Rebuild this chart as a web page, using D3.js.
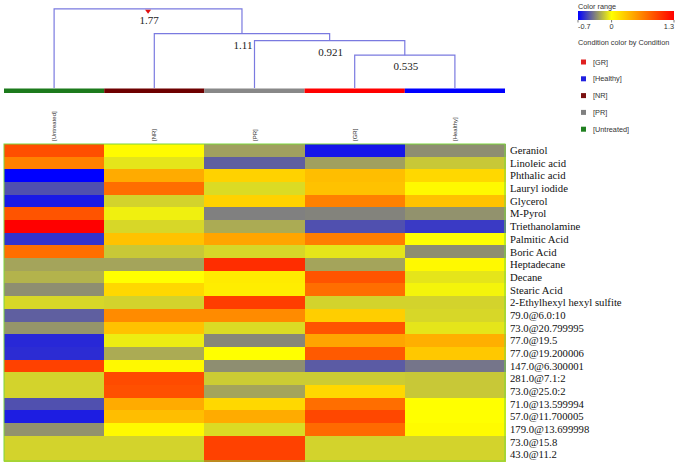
<!DOCTYPE html>
<html>
<head>
<meta charset="utf-8">
<style>
  body { margin: 0; background: #fff; }
  svg { display: block; }
  .row-label { font-family: "Liberation Serif", "DejaVu Serif", serif; font-size: 10.7px; fill: #111; }
  .col-label { font-family: "Liberation Sans", Arial, sans-serif; font-size: 6px; fill: #333; }
  .node-label { font-family: "Liberation Serif", serif; font-size: 11px; fill: #222; }
  .legend { font-family: "Liberation Sans", Arial, sans-serif; font-size: 7.3px; fill: #333; }
</style>
<script src="https://cdnjs.cloudflare.com/ajax/libs/d3/7.8.5/d3.min.js"></script>
</head>
<body>
<svg id="chart" width="675" height="465"></svg>
<script>
// columns (conditions) in dendrogram order
const conditions = ['[Untreated]', '[NR]', '[PR]', '[GR]', '[Healthy]'];
const conditionColors = ['#1c7a1c', '#6e0000', '#888888', '#ff0000', '#0000ff'];

// legend order
const legendConditions = ['[GR]', '[Healthy]', '[NR]', '[PR]', '[Untreated]'];
const legendColors = ['#e02020', '#2020e0', '#7a1010', '#808080', '#208020'];

// compounds (rows)
const compounds = [
  'Geraniol', 'Linoleic acid', 'Phthalic acid', 'Lauryl iodide', 'Glycerol',
  'M-Pyrol', 'Triethanolamine', 'Palmitic Acid', 'Boric Acid', 'Heptadecane',
  'Decane', 'Stearic Acid', '2-Ethylhexyl hexyl sulfite', '79.0@6.0:10',
  '73.0@20.799995', '77.0@19.5', '77.0@19.200006', '147.0@6.300001',
  '281.0@7.1:2', '73.0@25.0:2', '71.0@13.599994', '57.0@11.700005',
  '179.0@13.699998', '73.0@15.8', '43.0@11.2'
];

// values per condition, one entry per compound
const untreated = [0.90, 0.64, -0.70, -0.48, -0.63, 0.87, 1.30, -0.56, 0.74, -0.25,
  -0.21, -0.31, -0.11, -0.44, -0.29, -0.59, -0.58, 0.97, -0.12, -0.12, -0.48, -0.62, -0.30, -0.12, -0.12];
const nr = [0.02, -0.07, 0.43, 0.74, -0.12, -0.04, -0.11, 0.31, -0.15, -0.25,
  0.00, 0.20, -0.12, 0.59, 0.31, -0.05, -0.23, 0.03, 0.92, 0.89, 0.43, 0.33, 0.03, -0.12, -0.12];
const pr = [-0.26, -0.44, 0.23, -0.10, 0.23, -0.35, -0.23, 0.46, -0.11, 1.07,
  0.10, 0.09, 0.99, 0.59, -0.10, -0.33, 0.00, -0.31, -0.14, -0.25, 0.20, 0.43, -0.10, 0.97, 0.97];
const gr = [-0.64, -0.26, 0.33, 0.31, 0.64, -0.34, -0.48, 0.66, -0.07, -0.25,
  0.87, 0.74, -0.12, 0.25, 0.87, 0.46, 0.84, -0.45, -0.14, 0.20, 0.74, 0.94, 0.76, -0.12, -0.12];
const healthy = [-0.31, -0.15, 0.20, 0.03, 0.31, -0.30, -0.54, 0.00, -0.31, 0.03,
  -0.07, -0.03, -0.12, -0.11, -0.07, 0.41, 0.28, -0.38, -0.15, -0.15, 0.00, 0.00, 0.02, -0.12, -0.12];
const seriesByCondition = [untreated, nr, pr, gr, healthy];

// dendrogram merges: [left member, right member, height]
const merges = [
  ['[GR]', '[Healthy]', 0.535],
  ['[PR]', 'm0', 0.921],
  ['[NR]', 'm1', 1.11],
  ['[Untreated]', 'm2', 1.77]
];

// colour range
const colorDomain = [-0.7, 0, 1.3];
const colorRange = ['#0000ff', '#ffff00', '#ff0000'];
const colorTicks = ['-0.7', '0', '1.3'];

const svg = d3.select('#chart');

const x = d3.scaleBand().domain(conditions).range([4, 505]).padding(0);
const y = d3.scaleBand().domain(compounds).range([144, 461]).padding(0);
const color = d3.scaleLinear().domain(colorDomain).range(colorRange).interpolate(d3.interpolateRgb);
const hY = d3.scaleLinear().domain([0, 1.77]).range([75.3, 8.8]);

// heatmap cells
const cells = [];
conditions.forEach((c, ci) => {
  compounds.forEach((r, ri) => cells.push({ c, r, v: seriesByCondition[ci][ri] }));
});
svg.append('g').selectAll('rect').data(cells).join('rect')
  .attr('x', d => x(d.c))
  .attr('y', d => y(d.r))
  .attr('width', x.bandwidth() + 0.5)
  .attr('height', y.bandwidth() + 0.5)
  .attr('fill', d => color(d.v))
  .attr('shape-rendering', 'crispEdges');

svg.append('rect')
  .attr('x', x.range()[0]).attr('y', y.range()[0])
  .attr('width', x.range()[1] - x.range()[0])
  .attr('height', y.range()[1] - y.range()[0])
  .attr('fill', 'none').attr('stroke', '#7cd63c').attr('stroke-width', 1);

// row labels
svg.append('g').selectAll('text').data(compounds).join('text')
  .attr('class', 'row-label')
  .attr('x', 510)
  .attr('y', d => y(d) + y.bandwidth() / 2)
  .attr('dy', '0.35em')
  .text(d => d);

// column labels (rotated)
svg.append('g').selectAll('text').data(conditions).join('text')
  .attr('class', 'col-label')
  .attr('transform', d => `translate(${x(d) + x.bandwidth() / 2},141) rotate(-90)`)
  .attr('dy', '0.35em')
  .text(d => d);

// condition colour bar
svg.append('g').selectAll('rect').data(conditions).join('rect')
  .attr('x', d => x(d))
  .attr('y', 88.5)
  .attr('width', x.bandwidth())
  .attr('height', 4.5)
  .attr('fill', (d, i) => conditionColors[i]);

// dendrogram
const nodes = {};
conditions.forEach(c => { nodes[c] = { x: x(c) + x.bandwidth() / 2, h: null }; });
const dg = svg.append('g').attr('fill', 'none').attr('stroke', '#7a7ae0').attr('stroke-width', 1.2);
const labels = [];
merges.forEach((m, i) => {
  const a = nodes[m[0]], b = nodes[m[1]];
  const yy = hY(m[2]);
  const ya = a.h === null ? 88 : hY(a.h);
  const yb = b.h === null ? 88 : hY(b.h);
  dg.append('path').attr('d', `M${a.x},${ya}V${yy}H${b.x}V${yb}`);
  const mid = (a.x + b.x) / 2;
  nodes['m' + i] = { x: mid, h: m[2] };
  labels.push({ x: mid, y: yy, t: String(m[2]) });
});
svg.append('g').selectAll('text').data(labels).join('text')
  .attr('class', 'node-label')
  .attr('x', d => d.x + 1)
  .attr('y', d => d.y + 15)
  .attr('text-anchor', 'middle')
  .text(d => d.t);

// red marker on the root
const root = labels[labels.length - 1];
svg.append('path')
  .attr('d', `M${root.x - 3},${root.y + 1}L${root.x + 3},${root.y + 1}L${root.x},${root.y + 5}Z`)
  .attr('fill', '#e01010');

// legend: colour range
const lg = svg.append('g');
lg.append('text').attr('class', 'legend').attr('x', 578).attr('y', 8.5).text('Color range');
const grad = svg.append('defs').append('linearGradient').attr('id', 'cr');
const lx = d3.scaleLinear().domain([-0.7, 1.3]).range([578, 674]);
colorDomain.forEach((v, i) => {
  grad.append('stop')
    .attr('offset', ((v - colorDomain[0]) / (colorDomain[2] - colorDomain[0]) * 100) + '%')
    .attr('stop-color', colorRange[i]);
});
lg.append('rect').attr('x', 578).attr('y', 11).attr('width', 96).attr('height', 9).attr('fill', 'url(#cr)');
lg.selectAll('line.tk').data(colorDomain).join('line')
  .attr('x1', d => lx(d)).attr('x2', d => lx(d))
  .attr('y1', 20).attr('y2', 22.5)
  .attr('stroke', '#555').attr('stroke-width', 0.8);
lg.selectAll('text.tl').data(colorTicks).join('text')
  .attr('class', 'legend')
  .attr('x', (d, i) => lx(colorDomain[i]))
  .attr('y', 29)
  .attr('text-anchor', (d, i) => i === 0 ? 'start' : i === 2 ? 'end' : 'middle')
  .text(d => d);
lg.append('text').attr('class', 'legend').attr('x', 578).attr('y', 44.5).text('Condition color by Condition');

// legend: conditions
const items = lg.selectAll('g.item').data(legendConditions).join('g')
  .attr('transform', (d, i) => `translate(581,${62 + i * 16.8})`);
items.append('rect').attr('x', 0).attr('y', -2.5).attr('width', 5).attr('height', 5)
  .attr('fill', (d, i) => legendColors[i]);
items.append('text').attr('class', 'legend').attr('x', 12).attr('dy', '0.35em').text(d => d);
</script>
</body>
</html>
